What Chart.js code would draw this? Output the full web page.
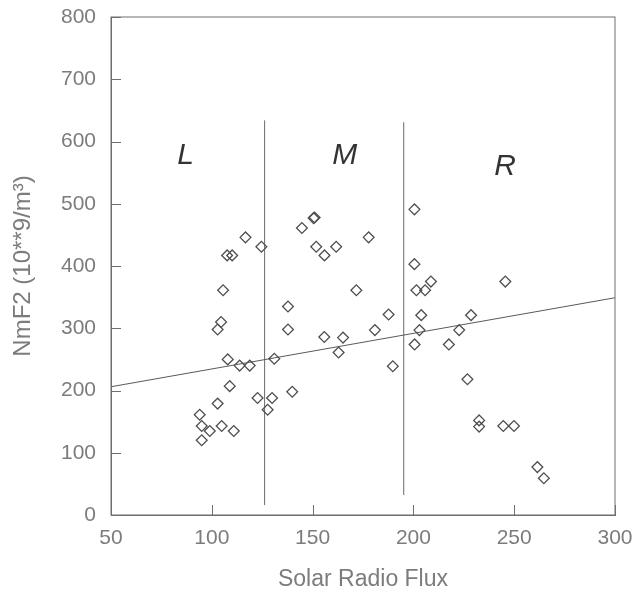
<!DOCTYPE html>
<html>
<head>
<meta charset="utf-8">
<script src="https://cdn.jsdelivr.net/npm/chart.js@4/dist/chart.umd.min.js"></script>
<style>
	html, body { margin: 0; padding: 0; background: #fff; }
	#wrap { width: 636px; height: 596px; }
</style>
</head>
<body>
<div id="wrap"><canvas id="chart" width="636" height="596"></canvas></div>
<script>
// scatter points (solar radio flux, NmF2)
const flux = [
	94.0, 95.0, 95.0, 99.0, 102.9, 104.9, 102.9, 104.6, 105.6, 107.9, 108.9, 110.9, 107.6, 110.1,
	113.8, 118.8, 116.7, 124.6, 122.7, 127.7, 129.9, 131.0,
	137.8, 137.8, 139.9, 144.7, 150.5, 151.0, 151.8, 155.9, 161.7, 155.8, 162.9, 165.1, 171.7,
	177.8, 180.9, 187.7, 189.8,
	200.5, 200.5, 201.5, 205.8, 208.7, 203.9, 203.0, 200.6, 217.6, 222.7, 228.6, 226.8, 232.6,
	232.6, 244.6, 249.9, 245.6, 261.5, 264.7
];
const nmf2 = [
	161, 143, 120, 135, 179, 143, 298, 310, 361, 250, 207, 135, 417, 417,
	240, 240, 446, 431, 188, 169, 188, 251,
	335, 298, 198, 461, 477, 478, 431, 417, 431, 286, 261, 285, 361,
	446, 297, 322, 239,
	491, 403, 361, 361, 375, 321, 297, 274, 274, 297, 321, 218, 152,
	142, 143, 143, 375, 77, 59
];

// regression line end points
const fitX = [50, 300];
const fitY = [206, 349];

// region dividers
const dividerX = [126.2, 195.2];
const dividerYStart = [16, 32];
const dividerYEnd = [634, 631];

// region labels
const regionLabels = ["L", "M", "R"];
const regionLabelX = [87, 166, 245.5];
const regionLabelY = [577, 577, 560];

const xTicks = [50, 100, 150, 200, 250, 300];
const yTicks = [0, 100, 200, 300, 400, 500, 600, 700, 800];

const axisColor = "#6f6f6f";
const textColor = "#7c7c7c";

const points = flux.map((x, i) => ({ x: x, y: nmf2[i] }));

const datasets = [
	{
		type: "scatter",
		data: points,
		pointStyle: "rectRot",
		pointRadius: 5.4,
		pointBorderWidth: 1.3,
		borderColor: "#4e4e4e",
		backgroundColor: "rgba(0,0,0,0)",
	},
	{
		type: "line",
		data: fitX.map((x, i) => ({ x: x, y: fitY[i] })),
		borderColor: "#5a5a5a",
		borderWidth: 1,
		pointRadius: 0,
		fill: false,
	},
];
dividerX.forEach((x, i) => {
	datasets.push({
		type: "line",
		data: [
			{ x: x, y: dividerYStart[i] },
			{ x: x, y: dividerYEnd[i] },
		],
		borderColor: "#6a6a6a",
		borderWidth: 1,
		pointRadius: 0,
		fill: false,
	});
});

// frame, inward tick marks and region letters
const decorations = {
	id: "decorations",
	afterDatasetsDraw(chart) {
		const { ctx, chartArea, scales } = chart;
		ctx.save();
		ctx.strokeStyle = axisColor;
		ctx.lineWidth = 1;
		ctx.strokeRect(chartArea.left, chartArea.top, chartArea.right - chartArea.left, chartArea.bottom - chartArea.top);

		ctx.beginPath();
		yTicks.forEach((v) => {
			const y = Math.round(scales.y.getPixelForValue(v)) + 0.5;
			ctx.moveTo(chartArea.left, y);
			ctx.lineTo(chartArea.left + 10, y);
		});
		xTicks.forEach((v) => {
			const x = Math.round(scales.x.getPixelForValue(v)) + 0.5;
			ctx.moveTo(x, chartArea.bottom);
			ctx.lineTo(x, chartArea.bottom - 10);
		});
		ctx.stroke();

		ctx.fillStyle = "#333";
		ctx.font = "italic 30px 'Liberation Sans', Arial, sans-serif";
		ctx.textAlign = "center";
		ctx.textBaseline = "middle";
		regionLabels.forEach((t, i) => {
			ctx.fillText(t, scales.x.getPixelForValue(regionLabelX[i]), scales.y.getPixelForValue(regionLabelY[i]));
		});
		ctx.restore();
	},
};

new Chart(document.getElementById("chart"), {
	type: "scatter",
	data: { datasets: datasets },
	options: {
		responsive: false,
		animation: false,
		events: [],
		layout: { padding: { top: 17, right: 21, left: 0, bottom: 0 } },
		plugins: {
			legend: { display: false },
			tooltip: { enabled: false },
		},
		scales: {
			x: {
				type: "linear",
				min: 50,
				max: 300,
				afterFit: (s) => {
					s.height = 81;
					s.paddingLeft = 0;
					s.paddingRight = 0;
				},
				afterBuildTicks: (s) => { s.ticks = xTicks.map((v) => ({ value: v })); },
				grid: { display: false, drawTicks: false },
				border: { display: true, color: axisColor, width: 1 },
				ticks: {
					padding: 11,
					color: textColor,
					font: { family: "'Liberation Sans', Arial, sans-serif", size: 21 },
				},
				title: {
					display: true,
					text: "Solar Radio Flux",
					color: textColor,
					padding: { top: 0, bottom: 3 },
					font: { family: "'Liberation Sans', Arial, sans-serif", size: 23 },
				},
			},
			y: {
				type: "linear",
				min: 0,
				max: 800,
				afterFit: (s) => {
					s.width = 111;
					s.paddingTop = 0;
					s.paddingBottom = 0;
				},
				afterBuildTicks: (s) => { s.ticks = yTicks.map((v) => ({ value: v })); },
				grid: { display: false, drawTicks: false },
				border: { display: true, color: axisColor, width: 1 },
				ticks: {
					padding: 15,
					color: textColor,
					font: { family: "'Liberation Sans', Arial, sans-serif", size: 21 },
				},
				title: {
					display: true,
					text: "NmF2 (10**9/m³)",
					color: textColor,
					padding: { top: 9, bottom: 0 },
					font: { family: "'Liberation Sans', Arial, sans-serif", size: 24 },
				},
			},
		},
	},
	plugins: [decorations],
});
</script>
</body>
</html>
